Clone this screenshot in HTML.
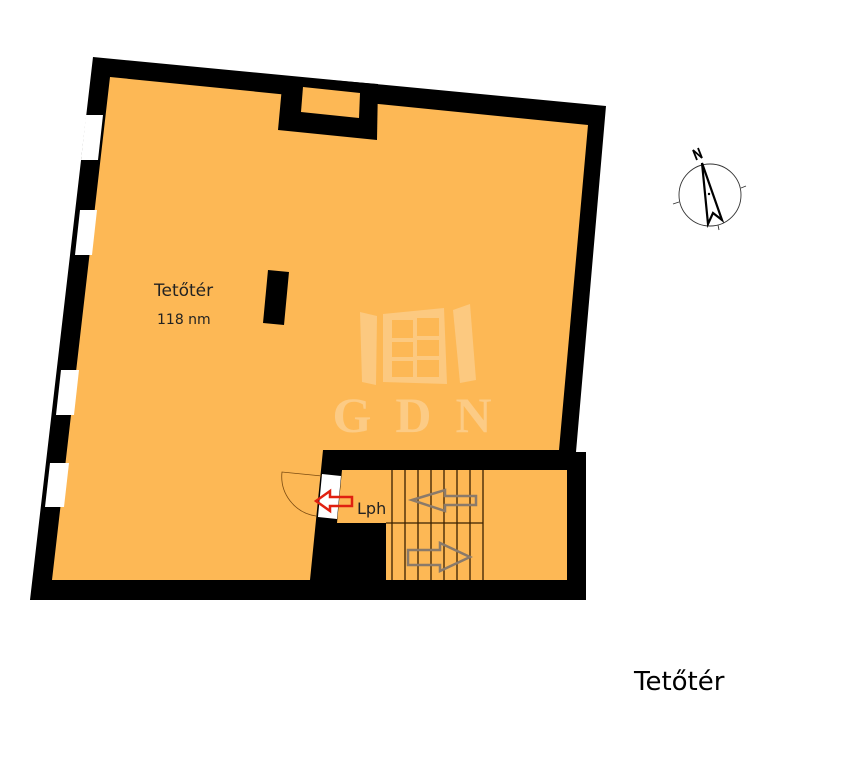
<!DOCTYPE html>
<html><head><meta charset="utf-8"><style>
html,body{margin:0;padding:0;background:#fff;width:853px;height:768px;overflow:hidden}
svg{display:block}
</style></head><body>
<svg width="853" height="768" viewBox="0 0 853 768" xmlns="http://www.w3.org/2000/svg" font-family="'DejaVu Sans','Liberation Sans',sans-serif">
<polygon points="93,57 606,106 576,452 586,452 586,600 30,600" fill="#000"/>
<polygon points="110,77 588,125 559,450 323,450 310,580 52,580" fill="#FDB855"/>
<polygon points="342,470 567,470 567,580 386,580 386,523 337,523" fill="#FDB855"/>
<polygon points="283,76 378,84 377,140 278,130" fill="#000"/>
<polygon points="303,87 360,93 359,118 301,112" fill="#FDB855"/>
<polygon points="86,115 103,115 98,160 81,160" fill="#fff"/>
<polygon points="80,210 97,210 92,255 75,255" fill="#fff"/>
<polygon points="61,370 79,370 74,415 56,415" fill="#fff"/>
<polygon points="50,463 69,463 64,507 45,507" fill="#fff"/>
<polygon points="268,270 289,272 284,325 263,323" fill="#000"/>
<g fill="#FCCB85" opacity="0.9">
<polygon points="360,312 377,316 376,385 362,382"/>
<polygon points="453,310 470,304 476,380 460,383"/>
<polygon points="383,314 444,308 447,384 383,382"/>
</g>
<g fill="#FDB855">
<rect x="392" y="320" width="21" height="18"/><rect x="417" y="318" width="22" height="18"/>
<rect x="392" y="342" width="21" height="15"/><rect x="417" y="340" width="22" height="16"/>
<rect x="392" y="361" width="21" height="16"/><rect x="417" y="360" width="22" height="17"/>
</g>
<text x="424" y="432" font-family="'Liberation Serif',serif" font-size="50" font-weight="bold" fill="#FCCB85" text-anchor="middle" letter-spacing="24">GDN</text>
<polygon points="322,474 341,476 337,519 318,517" fill="#fff"/>
<path d="M322,476 L282,472 A40,40 0 0 0 316,516" fill="none" stroke="#7a4a10" stroke-width="0.8"/>
<polygon points="316,501 330,491 330,497 352,497 352,506 330,506 330,511" fill="none" stroke="#e02010" stroke-width="2.5"/>
<text x="357" y="514" font-size="16" fill="#222">Lph</text>
<g stroke="#3a2000" stroke-width="1.3">
<line x1="386" y1="523" x2="483" y2="523"/>
<line x1="392" y1="470" x2="392" y2="580"/>
<line x1="405" y1="470" x2="405" y2="580"/>
<line x1="418" y1="470" x2="418" y2="580"/>
<line x1="431" y1="470" x2="431" y2="580"/>
<line x1="444" y1="470" x2="444" y2="580"/>
<line x1="457" y1="470" x2="457" y2="580"/>
<line x1="470" y1="470" x2="470" y2="580"/>
<line x1="483" y1="470" x2="483" y2="580"/>
</g>
<polygon points="412,500 445,490 445,496 476,496 476,505 445,505 445,511" fill="none" stroke="#8a7a6a" stroke-width="2.5"/>
<polygon points="408,550 440,550 440,543 470,557 440,571 440,565 408,565" fill="none" stroke="#8a7a6a" stroke-width="2.5"/>
<text x="154" y="296" font-size="17" fill="#222">Tetőtér</text>
<text x="157" y="324" font-size="14" fill="#222">118 nm</text>
<text x="634" y="690" font-size="26" fill="#000">Tetőtér</text>
<g fill="none" stroke="#333" stroke-width="0.9">
<circle cx="710" cy="195" r="31"/>
<line x1="741" y1="188" x2="746" y2="186"/>
<line x1="679" y1="202" x2="673" y2="204"/>
<line x1="718" y1="225" x2="719" y2="230"/>
</g>
<polygon points="702,163 722,220 713,213 708,224" fill="#fff" stroke="#000" stroke-width="2.2"/>
<circle cx="709" cy="194" r="1.2" fill="#000"/>
<path d="M697,160 L693,150 L702,158 L698,148" fill="none" stroke="#000" stroke-width="1.8"/>
</svg>
</body></html>
